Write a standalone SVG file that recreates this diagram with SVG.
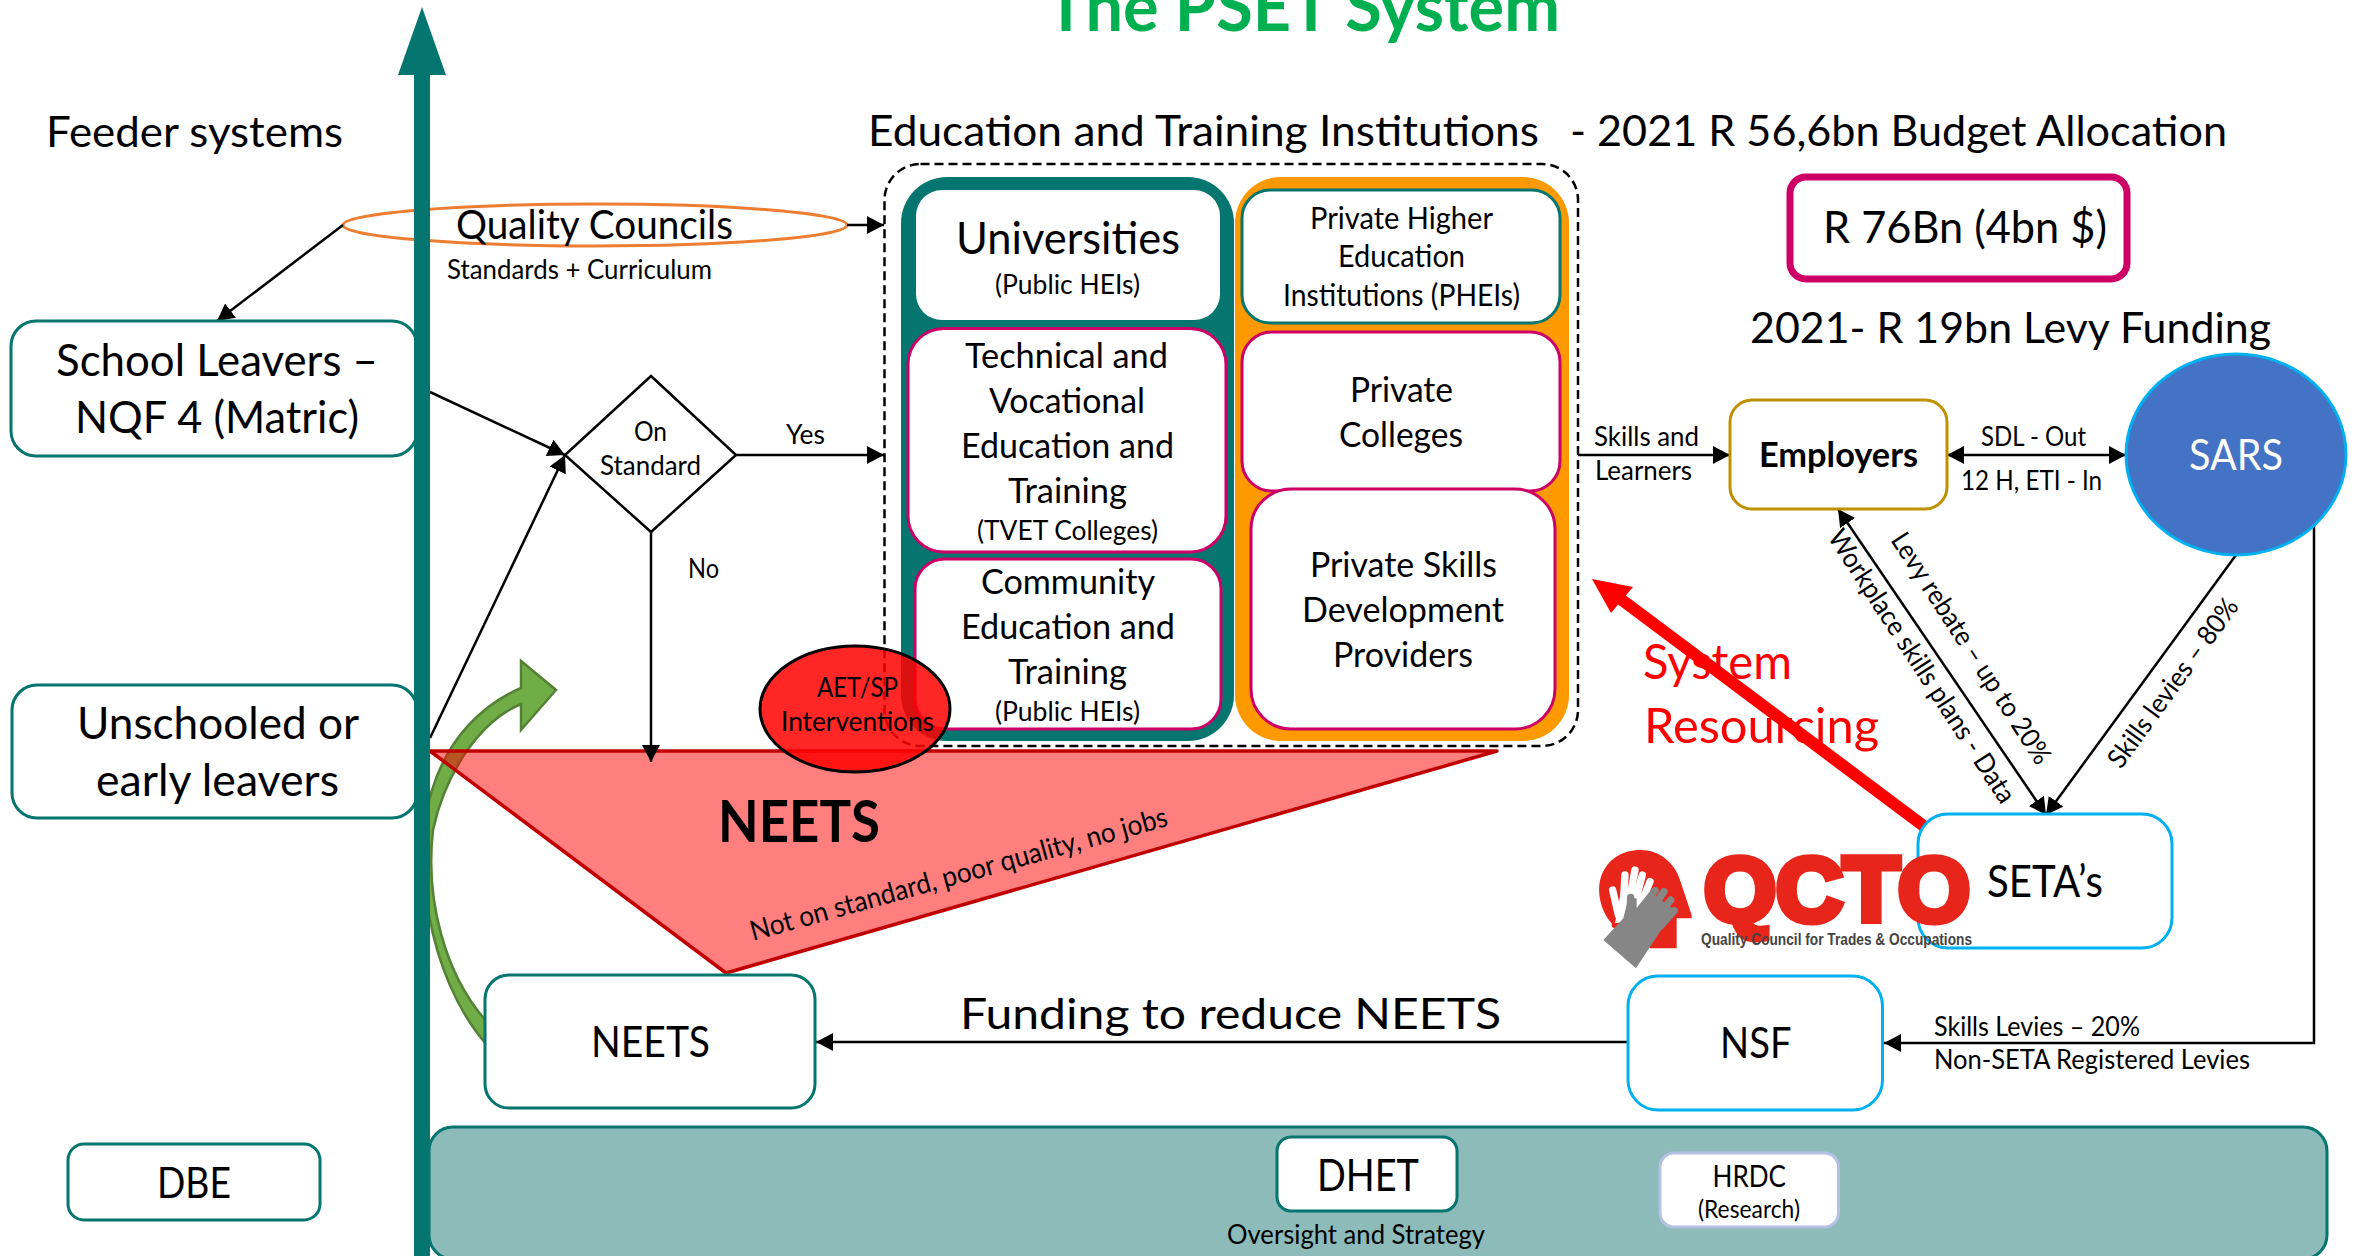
<svg xmlns="http://www.w3.org/2000/svg" width="2359" height="1256" viewBox="0 0 2359 1256">
<style>
text{font-family:Lato,"Liberation Sans",sans-serif;fill:#000}
.b{font-weight:700}
.s23{font-size:25px}.s25{font-size:27px}.s28{font-size:30px}.s32{font-size:34px}.s39{font-size:42px}.s41{font-size:44px}
.box{fill:#fff;stroke-width:3}
.teal{stroke:#04756f}.mag{stroke:#cc0066}.sky{stroke:#00b0f0}
.con{fill:none;stroke:#000;stroke-width:2.5}
</style>
<defs>
<marker id="a" markerUnits="userSpaceOnUse" markerWidth="20" markerHeight="20" refX="17" refY="9" orient="auto-start-reverse"><path d="M0 0L17 9L0 18Z" fill="#000"/></marker>
</defs>
<rect width="2359" height="1256" fill="#fff"/>

<g id="dhet-band">
<rect x="429" y="1127" width="1898" height="132" rx="24" fill="#8dbbb9" stroke="#04756f" stroke-width="3"/>
</g>

<g id="qc-ellipse"><ellipse cx="595" cy="225" rx="252" ry="21" fill="none" stroke="#ed7d31" stroke-width="3"/></g>

<g id="institutions">
<rect x="884.500" y="164" width="693.500" height="582" rx="36" fill="#fff" stroke="#000" stroke-width="2.500" stroke-dasharray="9 5"/>
<rect x="901" y="177" width="333" height="564" rx="46" fill="#04756f"/>
<rect x="1235" y="177" width="334" height="564" rx="46" fill="#ff9900"/>
</g>

<g id="heads">
<text class="b" x="1046" y="31" font-size="68" textLength="514" lengthAdjust="spacingAndGlyphs" style="fill:#00b050">The PSET System</text>
<text class="s39" x="46" y="147" textLength="297" lengthAdjust="spacingAndGlyphs">Feeder systems</text>
<text class="s39" x="868" y="146" textLength="671" lengthAdjust="spacingAndGlyphs">Education and Training Institutions</text>
<text class="s39" x="1570" y="146" textLength="657" lengthAdjust="spacingAndGlyphs">- 2021 R 56,6bn Budget Allocation</text>
<text class="s39" x="1750" y="343" textLength="521" lengthAdjust="spacingAndGlyphs">2021- R 19bn Levy Funding</text>
<text x="456" y="239" font-size="40" textLength="277" lengthAdjust="spacingAndGlyphs">Quality Councils</text>
<text class="s25" x="447" y="279" textLength="265" lengthAdjust="spacingAndGlyphs">Standards + Curriculum</text>
</g>

<g id="green-arrow">
<path d="M487 1045C425 975 412 850 432 790C448 738 482 705 521 688V661L556 690L521 730V704C478 722 445 775 433 830C425 900 445 975 487 1022Z" fill="#70ad47" stroke="#548235" stroke-width="2.500"/>
</g>

<g id="neets-triangle">
<path d="M430 751H1497L726 973Z" fill="#ff0000" fill-opacity=".5" stroke="#c00000" stroke-width="3.500" stroke-linejoin="round"/>
<text class="b" x="718" y="842" font-size="58" textLength="162" lengthAdjust="spacingAndGlyphs">NEETS</text>
<text x="753" y="941" font-size="28" transform="rotate(-15.500 753 941)" textLength="432" lengthAdjust="spacingAndGlyphs">Not on standard, poor quality, no jobs</text>
</g>

<g id="connectors">
<line class="con" x1="847" y1="225" x2="884" y2="225" marker-end="url(#a)"/>
<line class="con" x1="343" y1="225" x2="217" y2="321" marker-end="url(#a)"/>
<line class="con" x1="430" y1="392" x2="565" y2="455" marker-end="url(#a)"/>
<line class="con" x1="430" y1="738" x2="565" y2="455" marker-end="url(#a)"/>
<line class="con" x1="736" y1="455" x2="884" y2="455" marker-end="url(#a)"/>
<line class="con" x1="651" y1="532" x2="651" y2="762" marker-end="url(#a)"/>
<line class="con" x1="1578" y1="455" x2="1730" y2="455" marker-end="url(#a)"/>
<line class="con" x1="1947" y1="455" x2="2126" y2="455" marker-start="url(#a)" marker-end="url(#a)"/>
<line class="con" x1="1838" y1="509" x2="2046" y2="815" marker-start="url(#a)" marker-end="url(#a)"/>
<line class="con" x1="2236" y1="555" x2="2046" y2="815" marker-end="url(#a)"/>
<path class="con" d="M2314 526V1043H1884" marker-end="url(#a)"/>
<line class="con" x1="1628" y1="1042" x2="816" y2="1042" marker-end="url(#a)"/>
<line x1="1925" y1="827" x2="1618" y2="597" stroke="#ff0000" stroke-width="12"/>
<path d="M1592 579L1633 587L1611 613Z" fill="#ff0000"/>
<text class="s25" x="786" y="444" textLength="39" lengthAdjust="spacingAndGlyphs">Yes</text>
<text class="s25" x="688" y="578" textLength="31" lengthAdjust="spacingAndGlyphs">No</text>
<text class="s25" x="1594" y="446" textLength="105" lengthAdjust="spacingAndGlyphs">Skills and</text>
<text class="s25" x="1595" y="480" textLength="97" lengthAdjust="spacingAndGlyphs">Learners</text>
<text class="s25" x="1981" y="446" textLength="105" lengthAdjust="spacingAndGlyphs">SDL - Out</text>
<text class="s25" x="1961" y="490" textLength="141" lengthAdjust="spacingAndGlyphs">12 H, ETI - In</text>
<text class="s25" x="1890" y="540" transform="rotate(57 1890 540)" textLength="270" lengthAdjust="spacingAndGlyphs">Levy rebate – up to 20%</text>
<text class="s25" x="1827" y="537" transform="rotate(57 1827 537)" textLength="320" lengthAdjust="spacingAndGlyphs">Workplace skills plans - Data</text>
<text class="s25" x="2121" y="770" transform="rotate(-54 2121 770)" textLength="202" lengthAdjust="spacingAndGlyphs">Skills levies – 80%</text>
<text class="s25" x="1934" y="1036" textLength="206" lengthAdjust="spacingAndGlyphs">Skills Levies – 20%</text>
<text class="s25" x="1934" y="1069" textLength="316" lengthAdjust="spacingAndGlyphs">Non-SETA Registered Levies</text>
<text class="s39" x="960" y="1029" textLength="541" lengthAdjust="spacingAndGlyphs">Funding to reduce NEETS</text>
<text x="1643" y="679" font-size="48" textLength="149" lengthAdjust="spacingAndGlyphs" style="fill:#ff0000">System</text>
<text x="1644" y="743" font-size="48" textLength="235" lengthAdjust="spacingAndGlyphs" style="fill:#ff0000">Resourcing</text>
</g>

<g id="school-leavers">
<rect class="box teal" x="11" y="321" width="406" height="135" rx="25"/>
<text class="s41" x="56" y="376" textLength="322" lengthAdjust="spacingAndGlyphs">School Leavers –</text>
<text class="s41" x="75" y="433" textLength="284" lengthAdjust="spacingAndGlyphs">NQF 4 (Matric)</text>
</g>
<g id="unschooled">
<rect class="box teal" x="12" y="685" width="405" height="133" rx="25"/>
<text class="s41" x="77" y="739" textLength="282" lengthAdjust="spacingAndGlyphs">Unschooled or</text>
<text class="s41" x="96" y="796" textLength="243" lengthAdjust="spacingAndGlyphs">early leavers</text>
</g>
<g id="on-standard">
<path d="M651 376L736 455L651 532L565 455Z" fill="#fff" stroke="#000" stroke-width="2.500"/>
<text class="s25" x="634" y="441" textLength="33" lengthAdjust="spacingAndGlyphs">On</text>
<text class="s25" x="600" y="475" textLength="101" lengthAdjust="spacingAndGlyphs">Standard</text>
</g>

<g id="universities">
<rect x="916" y="190" width="304" height="130" rx="26" fill="#fff"/>
<text x="956" y="254" font-size="45" textLength="224" lengthAdjust="spacingAndGlyphs">Universities</text>
<text class="s25" x="995" y="294" textLength="145" lengthAdjust="spacingAndGlyphs">(Public HEIs)</text>
</g>
<g id="tvet">
<rect class="box mag" x="908" y="328.500" width="318" height="223.500" rx="36"/>
<text class="s32" x="965" y="368" textLength="203" lengthAdjust="spacingAndGlyphs">Technical and</text>
<text class="s32" x="989" y="413" textLength="156" lengthAdjust="spacingAndGlyphs">Vocational</text>
<text class="s32" x="961" y="458" textLength="213" lengthAdjust="spacingAndGlyphs">Education and</text>
<text class="s32" x="1008" y="503" textLength="119" lengthAdjust="spacingAndGlyphs">Training</text>
<text class="s25" x="977" y="540" textLength="181" lengthAdjust="spacingAndGlyphs">(TVET Colleges)</text>
</g>
<g id="community">
<rect class="box mag" x="915" y="559" width="306" height="170" rx="30"/>
<text class="s32" x="981" y="594" textLength="174" lengthAdjust="spacingAndGlyphs">Community</text>
<text class="s32" x="961" y="639" textLength="214" lengthAdjust="spacingAndGlyphs">Education and</text>
<text class="s32" x="1008" y="684" textLength="119" lengthAdjust="spacingAndGlyphs">Training</text>
<text class="s25" x="995" y="721" textLength="145" lengthAdjust="spacingAndGlyphs">(Public HEIs)</text>
</g>
<g id="phei">
<rect class="box teal" x="1242" y="190" width="318" height="133" rx="28"/>
<text class="s28" x="1310" y="229" textLength="183" lengthAdjust="spacingAndGlyphs">Private Higher</text>
<text class="s28" x="1338" y="267" textLength="127" lengthAdjust="spacingAndGlyphs">Education</text>
<text class="s28" x="1283" y="306" textLength="237" lengthAdjust="spacingAndGlyphs">Institutions (PHEIs)</text>
</g>
<g id="private-colleges">
<rect class="box mag" x="1242" y="332" width="318" height="159" rx="30"/>
<text class="s32" x="1350" y="402" textLength="103" lengthAdjust="spacingAndGlyphs">Private</text>
<text class="s32" x="1339" y="447" textLength="124" lengthAdjust="spacingAndGlyphs">Colleges</text>
</g>
<g id="private-skills">
<rect class="box mag" x="1251" y="489" width="304" height="240" rx="40"/>
<text class="s32" x="1310" y="577" textLength="187" lengthAdjust="spacingAndGlyphs">Private Skills</text>
<text class="s32" x="1302" y="622" textLength="202" lengthAdjust="spacingAndGlyphs">Development</text>
<text class="s32" x="1333" y="667" textLength="140" lengthAdjust="spacingAndGlyphs">Providers</text>
</g>

<g id="aet-sp">
<ellipse cx="855" cy="709" rx="95" ry="63" fill="#ff0000" fill-opacity=".85" stroke="#000" stroke-width="3"/>
<text class="s25" x="817" y="697" textLength="81" lengthAdjust="spacingAndGlyphs">AET/SP</text>
<text class="s25" x="781" y="731" textLength="153" lengthAdjust="spacingAndGlyphs">Interventions</text>
</g>

<g id="budget">
<rect x="1790" y="177" width="337" height="102" rx="16" fill="#fff" stroke="#cc0066" stroke-width="7"/>
<text x="1823" y="243" font-size="45" textLength="284" lengthAdjust="spacingAndGlyphs">R 76Bn (4bn $)</text>
</g>
<g id="employers">
<rect class="box" x="1730" y="400" width="217" height="109" rx="22" stroke="#bf9000"/>
<text class="b s32" x="1759" y="467" textLength="159" lengthAdjust="spacingAndGlyphs">Employers</text>
</g>
<g id="sars">
<ellipse cx="2236" cy="454.500" rx="110" ry="100.500" fill="#4472c4" stroke="#00b0f0" stroke-width="3"/>
<text class="s39" x="2189" y="470" textLength="94" lengthAdjust="spacingAndGlyphs" style="fill:#fff">SARS</text>
</g>
<g id="setas">
<rect class="box sky" x="1918" y="814" width="254" height="134" rx="30"/>
<text class="s41" x="1987" y="897" textLength="116" lengthAdjust="spacingAndGlyphs">SETA’s</text>
</g>
<g id="nsf">
<rect class="box sky" x="1628" y="976" width="254.500" height="134" rx="30"/>
<text class="s39" x="1720" y="1058" textLength="71.500" lengthAdjust="spacingAndGlyphs">NSF</text>
</g>
<g id="neets">
<rect class="box teal" x="485" y="975" width="330" height="133" rx="24"/>
<text class="s39" x="591" y="1057" textLength="119" lengthAdjust="spacingAndGlyphs">NEETS</text>
</g>
<g id="dbe">
<rect class="box teal" x="68" y="1144" width="252" height="76" rx="16"/>
<text class="s39" x="157" y="1198" textLength="74" lengthAdjust="spacingAndGlyphs">DBE</text>
</g>
<g id="dhet">
<rect class="box teal" x="1277" y="1137" width="180" height="74" rx="14"/>
<text class="s41" x="1317" y="1191" textLength="102" lengthAdjust="spacingAndGlyphs">DHET</text>
<text class="s25" x="1227" y="1244" textLength="258" lengthAdjust="spacingAndGlyphs">Oversight and Strategy</text>
</g>
<g id="hrdc">
<rect class="box" x="1660" y="1153" width="178.500" height="74" rx="14" stroke="#b4c0e4"/>
<text class="s28" x="1712.500" y="1187" textLength="73.500" lengthAdjust="spacingAndGlyphs">HRDC</text>
<text class="s23" x="1698" y="1218" textLength="102" lengthAdjust="spacingAndGlyphs">(Research)</text>
</g>

<g id="qcto">
<g transform="translate(1580 840) scale(.3333)">
<path d="M95 250C60 210 48 150 65 105C85 55 130 30 180 30C240 30 285 70 300 120L335 225V235H290V325H210L95 260Z" fill="#e8251a"/>
<g stroke="#fff" stroke-width="22" stroke-linecap="round" fill="none"><path d="M115 225L98 150M130 190L135 105M150 170L165 90M170 170L187 105M190 175L210 125"/></g>
<path d="M105 250L120 170L200 170L170 240Z" fill="#fff"/>
<path d="M70 300L130 235L145 175L170 175L170 215L215 160L285 210L250 260L168 385Z" fill="#868686"/>
<g stroke="#868686" stroke-width="22" stroke-linecap="round" fill="none"><path d="M150 235L152 172M175 215L225 152M200 230L252 155M220 245L272 180M240 260L283 212"/></g>
</g>
<text x="1704" y="921" font-size="90" textLength="266" lengthAdjust="spacingAndGlyphs" style="font-family:'Liberation Sans',sans-serif;font-weight:700;fill:#e8251a;stroke:#e8251a;stroke-width:7">QCTO</text>
<text x="1701" y="945" font-size="17" textLength="271" lengthAdjust="spacingAndGlyphs" style="font-family:'Liberation Sans',sans-serif;font-weight:700;fill:#444">Quality Council for Trades &amp; Occupations</text>
</g>

<g id="axis">
<rect x="414" y="70" width="16" height="1186" fill="#04756f"/>
<path d="M422 7L446 75H398Z" fill="#04756f"/>
</g>
</svg>
